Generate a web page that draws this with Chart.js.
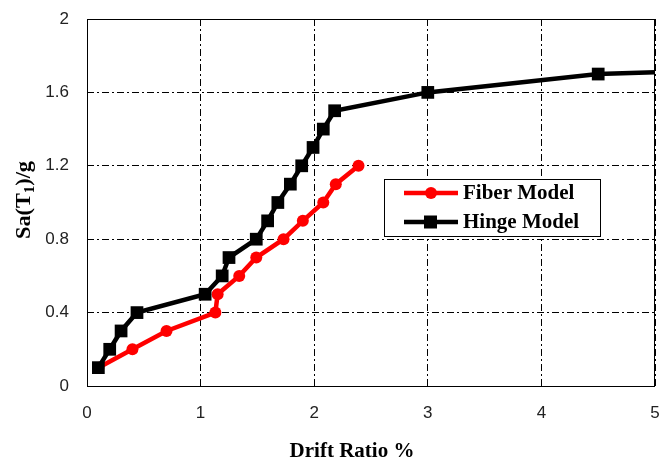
<!DOCTYPE html>
<html>
<head>
<meta charset="utf-8">
<script src="https://cdn.jsdelivr.net/npm/chart.js@4/dist/chart.umd.min.js"></script>
<style>
    html, body { margin: 0; padding: 0; background: #fff; }
    #wrap { width: 660px; height: 464px; }
</style>
</head>
<body>
<div id="wrap"><canvas id="chart" width="660" height="464"></canvas></div>
<script>
// values
var fiberDrift = [0.1, 0.4, 0.7, 1.13, 1.15, 1.34, 1.49, 1.73, 1.9, 2.08, 2.19, 2.39];
var fiberSa    = [0.1, 0.2, 0.3, 0.4, 0.5, 0.6, 0.7, 0.8, 0.9, 1.0, 1.1, 1.2];
var hingeDrift = [0.1, 0.2, 0.3, 0.44, 1.04, 1.19, 1.25, 1.49, 1.59, 1.68, 1.79, 1.89, 1.99, 2.08, 2.18, 3.0, 4.5, 5.0];
var hingeSa    = [0.1, 0.2, 0.3, 0.4, 0.5, 0.6, 0.7, 0.8, 0.9, 1.0, 1.1, 1.2, 1.3, 1.4, 1.5, 1.6, 1.7, 1.71];
var xTicks = [0, 1, 2, 3, 4, 5];
var yTicks = [0, 0.4, 0.8, 1.2, 1.6, 2];
var xTitle = 'Drift Ratio %';
var yTitle = ['Sa(T', '1', ')/g'];   // middle piece is the subscript

function toPoints(xs, ys) {
    var pts = [];
    for (var i = 0; i < xs.length; i++) pts.push({x: xs[i], y: ys[i]});
    return pts;
}

function tickText(v) {
    return String(Math.round(v * 10) / 10);
}

// last hinge point only carries the line to the frame, no marker there
var hingeRadius = hingeDrift.map(function (v, i) { return i === hingeDrift.length - 1 ? 0 : 9; });

var gridDash = [7, 3, 2, 3];
var serifBold = '"Liberation Serif"';

// frame, axis titles (y one needs a subscript) and the boxed legend
var frameAndLegend = {
    id: 'frameAndLegend',
    afterDraw: function (chart) {
        var ctx = chart.ctx, a = chart.chartArea;
        ctx.save();
        ctx.strokeStyle = '#000';
        ctx.lineWidth = 1;
        ctx.strokeRect(a.left + 0.5, a.top + 0.5, a.right - a.left - 1, a.bottom - a.top);

        // x title
        ctx.fillStyle = '#000';
        ctx.font = 'bold 21px ' + serifBold;
        ctx.textAlign = 'center';
        ctx.textBaseline = 'middle';
        ctx.fillText(xTitle, 352, 452);

        // y title, rotated, stretched a bit along the text like the original
        var big = 'bold 21px ' + serifBold, small = 'bold 14px ' + serifBold;
        ctx.font = big;
        var w0 = ctx.measureText(yTitle[0]).width, w2 = ctx.measureText(yTitle[2]).width;
        ctx.font = small;
        var w1 = ctx.measureText(yTitle[1]).width;
        var total = w0 + w1 + w2;
        ctx.save();
        ctx.translate(30, 200);
        ctx.rotate(-Math.PI / 2);
        ctx.scale(78 / total, 1);
        ctx.textAlign = 'left';
        ctx.textBaseline = 'alphabetic';
        var x0 = -total / 2;
        ctx.font = big;
        ctx.fillText(yTitle[0], x0, 0);
        ctx.font = small;
        ctx.fillText(yTitle[1], x0 + w0, 4);
        ctx.font = big;
        ctx.fillText(yTitle[2], x0 + w0 + w1, 0);
        ctx.restore();

        // legend
        var bx = 384, by = 179, bw = 216, bh = 57;
        ctx.fillStyle = '#fff';
        ctx.fillRect(bx, by, bw, bh);
        ctx.strokeRect(bx + 0.5, by + 0.5, bw, bh);

        var rows = [193, 222];
        chart.data.datasets.forEach(function (ds, i) {
            var y = rows[i];
            ctx.strokeStyle = ds.borderColor;
            ctx.lineWidth = 4.5;
            ctx.beginPath();
            ctx.moveTo(404, y);
            ctx.lineTo(458, y);
            ctx.stroke();
            ctx.fillStyle = ds.borderColor;
            if (ds.pointStyle === 'rect') {
                ctx.fillRect(424, y - 6.5, 13, 13);
            } else {
                ctx.beginPath();
                ctx.arc(431, y, 6, 0, Math.PI * 2);
                ctx.fill();
            }
            ctx.fillStyle = '#000';
            ctx.font = 'bold 21px ' + serifBold;
            ctx.textBaseline = 'middle';
            ctx.textAlign = 'left';
            ctx.fillText(ds.label, 463, y + 1);
        });
        ctx.restore();
    }
};

new Chart(document.getElementById('chart'), {
    type: 'scatter',
    data: {
        datasets: [
            {
                label: 'Fiber Model',
                data: toPoints(fiberDrift, fiberSa),
                showLine: true,
                borderColor: '#ff0000',
                backgroundColor: '#ff0000',
                borderWidth: 4.5,
                pointStyle: 'circle',
                pointRadius: 6,
                pointBorderWidth: 0,
                order: 2
            },
            {
                label: 'Hinge Model',
                data: toPoints(hingeDrift, hingeSa),
                showLine: true,
                borderColor: '#000000',
                backgroundColor: '#000000',
                borderWidth: 4.5,
                pointStyle: 'rect',
                pointRadius: hingeRadius,
                pointBorderWidth: 0,
                order: 1
            }
        ]
    },
    options: {
        responsive: false,
        animation: false,
        layout: { autoPadding: false, padding: { top: 19, right: 5, left: 0, bottom: 0 } },
        plugins: { legend: { display: false }, tooltip: { enabled: false } },
        scales: {
            x: {
                type: 'linear',
                min: 0,
                max: 5,
                afterBuildTicks: function (s) { s.ticks = xTicks.map(function (v) { return {value: v}; }); },
                afterFit: function (s) { s.height = 78; s.paddingLeft = 0; s.paddingRight = 0; },
                grid: { color: '#000', lineWidth: 1, drawTicks: false },
                border: { display: false, dash: gridDash },
                ticks: { padding: 17, color: '#222', callback: tickText, font: { family: '"Liberation Sans"', size: 17 } }
            },
            y: {
                min: 0,
                max: 2,
                afterBuildTicks: function (s) { s.ticks = yTicks.map(function (v) { return {value: v}; }); },
                afterFit: function (s) { s.width = 87; s.paddingTop = 0; s.paddingBottom = 0; },
                grid: { color: '#000', lineWidth: 1, drawTicks: false },
                border: { display: false, dash: gridDash },
                ticks: { padding: 18, color: '#222', callback: tickText, font: { family: '"Liberation Sans"', size: 17 } }
            }
        }
    },
    plugins: [frameAndLegend]
});
</script>
</body>
</html>
